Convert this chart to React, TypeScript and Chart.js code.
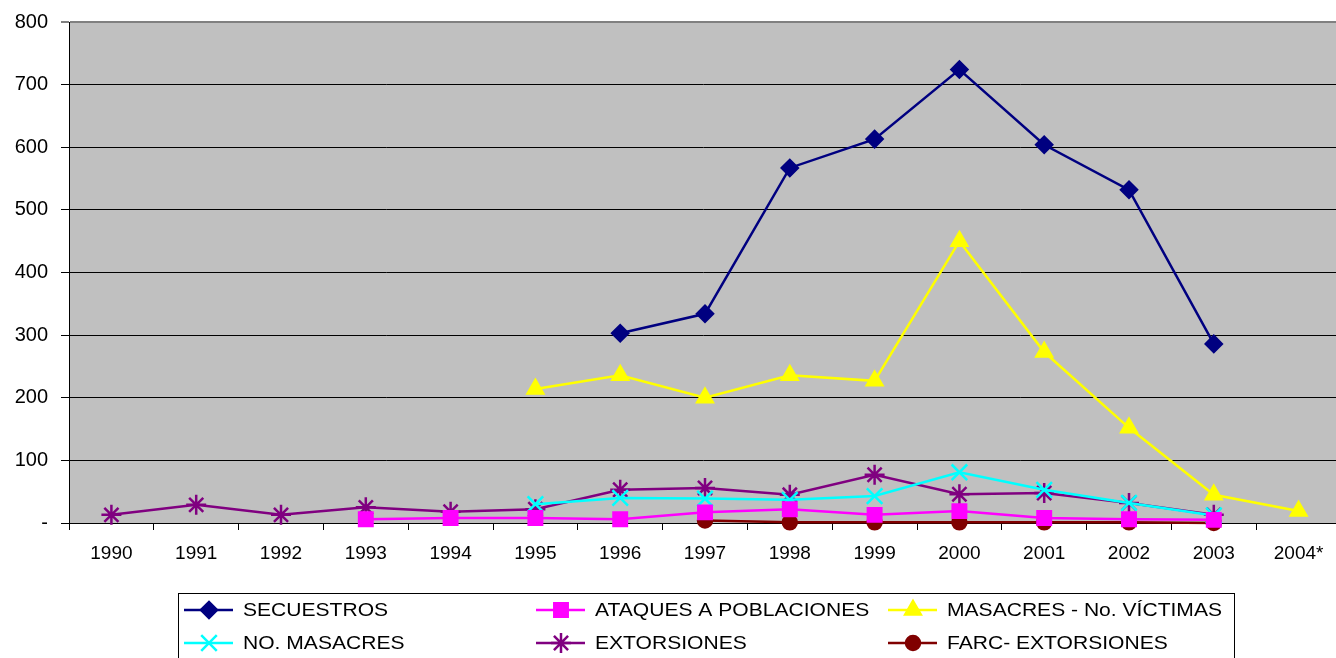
import React, { useEffect, useRef } from "react";
import { Chart, registerables } from "chart.js";
import { drawPoint } from "chart.js/helpers";

Chart.register(...registerables);

const years = ["1990", "1991", "1992", "1993", "1994", "1995", "1996", "1997", "1998", "1999", "2000", "2001", "2002", "2003", "2004*"];
const secuestros = [null, null, null, null, null, null, 303, 334, 567, 613, 724, 604, 532, 286, null];
const ataques = [null, null, null, 6, 8, 8, 6, 17, 22, 13, 19, 8, 6, 5, null];
const victimas = [null, null, null, null, null, 214, 236, 200, 236, 227, 450, 273, 152, 45, 19];
const noMasacres = [null, null, null, null, null, 30, 40, 39, 37, 43, 81, 53, 32, 12, null];
const extorsiones = [13, 29, 13, 25, 18, 22, 53, 56, 45, 77, 46, 48, 32, 13, null];
const farc = [null, null, null, null, null, null, null, 4, 1, 1, 1, 1, 1, 0, null];
const yTicks = [0, 100, 200, 300, 400, 500, 600, 700, 800];

const FONT = '"Liberation Sans", Arial, sans-serif';

type Series = { label: string; data: (number | null)[]; color: string; style: any; radius: number };
const series: Series[] = [
  { label: "SECUESTROS", data: secuestros, color: "#000080", style: "rectRot", radius: 8 },
  { label: "ATAQUES A POBLACIONES", data: ataques, color: "#FF00FF", style: "rect", radius: 9.5 },
  { label: "MASACRES - No. VÍCTIMAS", data: victimas, color: "#FFFF00", style: "triangle", radius: 9 },
  { label: "NO. MASACRES", data: noMasacres, color: "#00FFFF", style: "crossRot", radius: 11 },
  { label: "EXTORSIONES", data: extorsiones, color: "#800080", style: "star", radius: 10 },
  { label: "FARC- EXTORSIONES", data: farc, color: "#800000", style: "circle", radius: 7 },
];

// plot area in the original runs slightly past the right edge of the picture
const PLOT_RIGHT = 1341;

const extendPlugin = {
  id: "extendRight",
  afterLayout(chart: any) {
    const x = chart.scales.x;
    const area = chart.chartArea;
    area.right = PLOT_RIGHT;
    area.width = PLOT_RIGHT - area.left;
    x.right = PLOT_RIGHT;
    x.width = PLOT_RIGHT - x.left;
    x.configure();
  },
};

const bgPlugin = {
  id: "plotBg",
  beforeDraw(chart: any) {
    const { ctx, chartArea } = chart;
    ctx.save();
    ctx.fillStyle = "#C0C0C0";
    ctx.fillRect(chartArea.left, chartArea.top, chartArea.right - chartArea.left, chartArea.bottom - chartArea.top);
    ctx.restore();
  },
};

const legendPlugin = {
  id: "boxLegend",
  afterDraw(chart: any) {
    const { ctx } = chart;
    ctx.save();
    ctx.fillStyle = "#FFFFFF";
    ctx.fillRect(178.5, 593.5, 1056, 80);
    ctx.strokeStyle = "#000000";
    ctx.lineWidth = 1;
    ctx.strokeRect(178.5, 593.5, 1056, 80);
    const cols = [184, 536, 888];
    const rows = [610, 643];
    series.forEach((s, i) => {
      const x0 = cols[i % 3];
      const y = rows[Math.floor(i / 3)];
      ctx.strokeStyle = s.color;
      ctx.lineWidth = 2.5;
      ctx.beginPath();
      ctx.moveTo(x0, y);
      ctx.lineTo(x0 + 49, y);
      ctx.stroke();
      ctx.fillStyle = s.color;
      drawPoint(ctx, { pointStyle: s.style, radius: s.radius, borderWidth: 2.5, rotation: 0 } as any, x0 + 25, y);
      ctx.save();
      ctx.translate(x0 + 59, y);
      ctx.scale(1.17, 1);
      ctx.fillStyle = "#000000";
      ctx.font = `18px ${FONT}`;
      ctx.textBaseline = "middle";
      ctx.textAlign = "left";
      ctx.fillText(s.label, 0, 1);
      ctx.restore();
    });
    ctx.restore();
  },
};

export default function App() {
  const ref = useRef<HTMLCanvasElement | null>(null);
  useEffect(() => {
    if (!ref.current) return;
    const chart = new Chart(ref.current, {
      type: "line",
      data: {
        labels: years,
        datasets: series.map((s) => ({
          label: s.label,
          data: s.data,
          borderColor: s.color,
          backgroundColor: s.color,
          pointBackgroundColor: s.color,
          pointBorderColor: s.color,
          pointStyle: s.style,
          pointRadius: s.radius,
          pointBorderWidth: 2.5,
          borderWidth: 2.5,
          tension: 0,
          fill: false,
          spanGaps: false,
          clip: false,
        })),
      },
      options: {
        responsive: false,
        animation: false,
        layout: { autoPadding: false, padding: { top: 22, left: 0, right: 0, bottom: 85 } },
        plugins: { legend: { display: false }, tooltip: { enabled: false } },
        scales: {
          x: {
            type: "category",
            offset: true,
            afterFit: (scale: any) => { scale.height = 50; scale.paddingRight = 0; scale.paddingLeft = 0; },
            grid: { offset: true, drawOnChartArea: false, drawTicks: true, tickLength: 7, color: "#000000", lineWidth: 1 },
            border: { display: true, color: "#000000", width: 1 },
            ticks: { color: "#000000", font: { family: FONT, size: 19 }, padding: 12, maxRotation: 0, autoSkip: false },
          },
          y: {
            min: 0,
            max: 800,
            afterFit: (scale: any) => { scale.width = 69; scale.paddingTop = 0; scale.paddingBottom = 0; },
            afterBuildTicks: (scale: any) => { scale.ticks = yTicks.map((v) => ({ value: v })); },
            grid: {
              color: (c: any) => (c.tick && c.tick.value === 800 ? "#808080" : "#000000"),
              lineWidth: (c: any) => (c.tick && c.tick.value === 800 ? 2 : 1),
              tickLength: 8,
              drawTicks: true,
            },
            border: { display: true, color: "#000000", width: 1 },
            ticks: {
              color: "#000000",
              font: { family: FONT, size: 20 },
              padding: 13,
              callback: (v: any) => (Number(v) === 0 ? "-" : String(v)),
            },
          },
        },
      },
      plugins: [extendPlugin, bgPlugin, legendPlugin],
    } as any);
    return () => chart.destroy();
  }, []);
  return (
    <div style={{ position: "fixed", left: 0, top: 0, width: 1336, height: 658, background: "#FFFFFF" }}>
      <canvas ref={ref} width={1336} height={658} style={{ display: "block" }} />
    </div>
  );
}
